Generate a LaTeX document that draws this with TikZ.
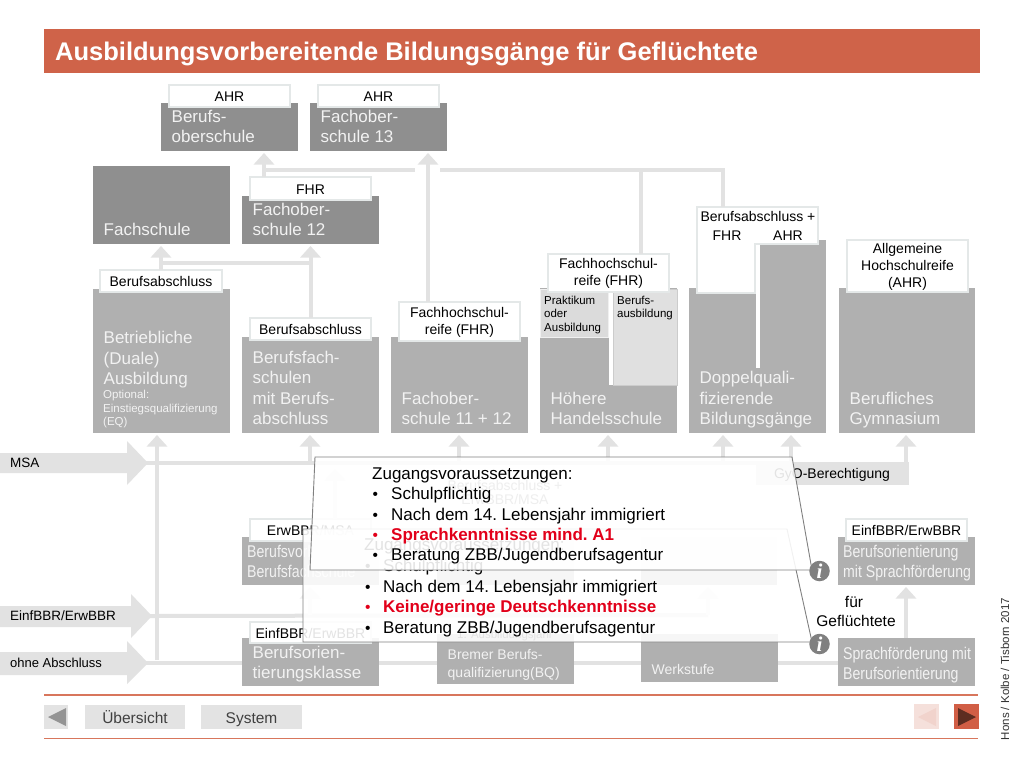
\documentclass[tikz,border=0pt]{standalone}
\usepackage{fontspec}
\setmainfont{Liberation Sans}
\newfontfamily\condf[FakeStretch=0.83]{Liberation Sans}
\newfontfamily\serifi{Liberation Serif}
\usetikzlibrary{arrows.meta,fit}
\definecolor{titlec}{HTML}{CF6349}
\definecolor{lg}{HTML}{E2E2E2}
\definecolor{dk}{HTML}{8F8F8F}
\definecolor{md}{HTML}{B0B0B0}
\definecolor{txtw}{HTML}{F2F2F2}
\definecolor{lb}{HTML}{E4E8E8}
\definecolor{redt}{HTML}{E2001A}
\definecolor{navl}{HTML}{D8765C}
\tikzset{
  boxfit/.style={inner sep=0pt,outer sep=0pt,draw=none},
  boxtext/.style={inner sep=0pt,anchor=south west,align=left,text=txtw,text depth=0pt,font=\fontsize{17}{20.5}\selectfont},
  condtext/.style={boxtext,font=\fontsize{17}{20.5}\selectfont\condf},
  smalltext/.style={inner sep=0pt,align=left,text=black,font=\fontsize{11.5}{13.5}\selectfont},
  lbltext/.style={inner sep=0pt,align=center,text=black,font=\fontsize{14}{17}\selectfont},
  wire/.style={draw=lg,line width=4pt},
  conn/.style={draw=lg,line width=4pt,-{Triangle[length=11.5pt,width=20pt]},shorten >=2pt},
  ghostconn/.style={conn,draw=lg!55},
  popup/.style={draw=black!50,line width=0.9pt,fill=white,fill opacity=0.89},
  poptext/.style={inner sep=0pt,anchor=base west,text=black,font=\fontsize{17}{20.5}\selectfont\frenchspacing},
  popbul/.style={poptext,font=\fontsize{15.5}{20.5}\selectfont},
  popred/.style={poptext,text=redt,font=\fontsize{17}{20.5}\selectfont\bfseries\frenchspacing},
  infoc/.style={circle,fill=black!50,inner sep=0pt,minimum size=20.5pt,text=white,font=\fontsize{21}{21}\selectfont\serifi\bfseries\itshape},
  navbtn/.style={boxfit,fill=black!11},
  navtext/.style={inner sep=0pt,anchor=base,text=black!75,font=\fontsize{15.5}{18}\selectfont},
}
\newcommand{\gbox}[8]{%
  \node[boxfit,fill=#6,fit={(#2,#3)(#4,#5)}] (#1) {};
  \node[boxtext] (#1-t) at ([xshift=10.5pt,yshift=#7pt]#1.south west) {#8};
}
\newcommand{\cbox}[7]{%
  \node[boxfit,fill=md,fit={(#2,#3)(#4,#5)}] (#1) {};
  \node[condtext] (#1-t) at ([xshift=5pt,yshift=#6pt]#1.south west) {#7};
}
\newcommand{\lbl}[6]{%
  \node[boxfit,fill=white,draw=lb,line width=1.5pt,fit={(#2,#3)(#4,#5)}] (#1) {};
  \node[lbltext] (#1-t) at ([yshift=-0.7pt]#1.center) {#6};
}
\begin{document}
\begin{tikzpicture}[x=1pt,y=-1pt]
\useasboundingbox (0,0) rectangle (1024,768);
\fill[white] (0,0) rectangle (1024,768);

% title
\node[boxfit,fill=titlec,fit={(44,29)(980,73)}] (title) {};
\node[inner sep=0pt,anchor=west,text=white,font=\fontsize{25.5}{28}\selectfont\bfseries] (title-t) at (55,54) {Ausbildungsvorbereitende Bildungsgänge für Geflüchtete};

% named junctions
\coordinate (b263l) at (161,263);
\coordinate (b170r) at (723,170);
\coordinate (b170a) at (264,170);
\coordinate (b170g1) at (415,170);
\coordinate (b170g2) at (440,170);
\coordinate (msaend) at (791,463);
\coordinate (einfend) at (708,615);

% input block arrows
\fill[lg] (0,453)--(127,453)--(127,441)--(148,463)--(127,485)--(127,473)--(0,473)--cycle;
\fill[lg] (0,606)--(131,606)--(131,594)--(152,616)--(131,638)--(131,627)--(0,627)--cycle;
\fill[lg] (0,652)--(127,652)--(127,641)--(148,663)--(127,684)--(127,675)--(0,675)--cycle;
\coordinate (msaT) at (146,463);
\coordinate (einfT) at (150,616);
\coordinate (ohneT) at (146,663);
\node[lbltext,anchor=west,font=\fontsize{13.5}{16}\selectfont] (msa) at (10,463) {MSA};
\node[lbltext,anchor=west,font=\fontsize{13.5}{16}\selectfont] (einf) at (10,616) {EinfBBR/ErwBBR};
\node[lbltext,anchor=west,font=\fontsize{13}{16}\selectfont] (ohne) at (10,663) {ohne Abschluss};

% bus lines
\draw[wire] (msaT) -- (msaend);
\draw[wire] (einfT) -- (einfend);
\draw[wire] (ohneT) -- (838,663);
\draw[wire] (157,660) -- (157,450);

% boxes top
\gbox{bos}{161}{103}{298}{151}{dk}{8}{Berufs-\\oberschule}
\gbox{fos13}{310}{103}{447}{151}{dk}{8}{Fachober-\\schule 13}
\gbox{fs}{93}{166}{230}{244}{dk}{8}{Fachschule}
\gbox{fos12}{242}{196}{379}{244}{dk}{8}{Fachober-\\schule 12}
\gbox{dual}{93}{289}{230}{433}{md}{48}{Betriebliche\\(Duale)\\Ausbildung}
\node[smalltext,text=txtw,anchor=north west] (dual-s) at (103,390) {Optional:\\Einstiegsqualifizierung\\(EQ)};
\gbox{bfs}{242}{337}{379}{433}{md}{8}{Berufsfach-\\schulen\\mit Berufs-\\abschluss}
\gbox{fos11}{391}{337}{528}{433}{md}{8}{Fachober-\\schule 11 + 12}
\gbox{hhs}{540}{288}{677}{433}{md}{8}{Höhere\\Handelsschule}
\gbox{dq}{689}{288}{826}{433}{md}{8}{Doppelquali-\\fizierende\\Bildungsgänge}
\node[boxfit,fill=md,fit={(760,240)(826,288)}] (dqr) {};
\gbox{gym}{839}{288}{975}{433}{md}{8}{Berufliches\\Gymnasium}

% inner parts of Hoehere Handelsschule
\node[boxfit,fill=black!14,draw=black!6,line width=0.8pt,fit={(540,289)(608,337)}] (prak) {};
\node[smalltext,anchor=north west] (prak-t) at (544,295.5) {Praktikum\\oder\\Ausbildung};
\fill[white] (608.5,289) rectangle (612.5,385);
\node[boxfit,fill=black!12,draw=black!20,line width=0.8pt,fit={(613,289)(677,385)}] (ber) {};
\node[smalltext,anchor=north west] (ber-t) at (617,295.5) {Berufs-\\ausbildung};

% lower boxes
\cbox{bvb}{242}{537}{379}{585}{7}{Berufsvorbereitende\\Berufsfachschule}
\node[boxfit,fill=md,fit={(437,537)(574,585)}] (mid1) {};
\node[boxfit,fill=md,fit={(641,537)(777,585)}] (mid2) {};
\cbox{bso}{838}{537}{975}{585}{7}{Berufsorientierung\\mit Sprachförderung}
\gbox{bok}{242}{638}{379}{686}{md}{7}{Berufsorien-\\tierungsklasse}
\node[boxfit,fill=md,fit={(437,634)(574,684)}] (bq) {};
\node[boxtext,font=\fontsize{14}{18.5}\selectfont] (bq-t) at ([xshift=10.5pt,yshift=6pt]bq.south west) {Bremer Berufs-\\qualifizierung(BQ)};
\node[boxfit,fill=md,fit={(641,634)(778,682)}] (werk) {};
\node[boxtext,font=\fontsize{14}{18}\selectfont] (werk-t) at ([xshift=10.5pt,yshift=7pt]werk.south west) {Werkstufe};
\cbox{spf}{838}{638}{975}{686}{6}{Sprachförderung mit\\Berufsorientierung}

% GyO
\node[boxfit,fill=lg,fit={(756,462)(909,485)}] (gyo) {};
\node[lbltext] (gyo-t) at (832,475) {GyO-Berechtigung};

% labels
\lbl{l1}{169}{85}{290}{107}{AHR}
\lbl{l2}{318}{85}{439}{107}{AHR}
\lbl{l3}{250}{177}{371}{200}{FHR}
\lbl{l4}{100}{270}{222}{292}{Berufsabschluss}
\lbl{l5}{250}{318}{371}{340}{Berufsabschluss}
\lbl{l6}{399}{302}{520}{341}{Fachhochschul-\\reife (FHR)}
\lbl{l7}{548}{254}{669}{292}{Fachhochschul-\\reife (FHR)}
\lbl{l8}{847}{240}{968}{292}{Allgemeine\\Hochschulreife\\(AHR)}
\lbl{l9}{250}{519}{371}{541}{ErwBBR/MSA}
\lbl{l10}{846}{519}{967}{541}{EinfBBR/ErwBBR}
\lbl{l11}{250}{622}{371}{643}{EinfBBR/ErwBBR}
\node[lbltext,font=\fontsize{11.5}{13}\selectfont] (l12) at (505,636) {1. Ausbildungsjahr};

% Doppelquali label
\filldraw[fill=white,draw=lb,line width=1.5pt] (697,207)--(818,207)--(818,244)--(755,244)--(755,293)--(697,293)--cycle;
\fill[white] (755.5,245) rectangle (760,368);
\coordinate (dql) at (723,207);
\node[lbltext] (dq1) at (758,216) {Berufsabschluss +};
\node[lbltext] (dq2) at (727,236) {FHR};
\node[lbltext] (dq3) at (788,236) {AHR};

% faint hidden label text
\node[lbltext,text=black!60] (hid) at (505,492) {Berufsabschluss +\\[-3pt]ErwBBR/MSA};

% connectors, upper part
\draw[conn] (l3.north -| b170a) -- (bos.south -| b170a);
\draw[wire] (b170a) -- (b170g1);
\draw[wire] (b170g2) -- (b170r) -- (dql);
\draw[wire] (641,170) -- (l7.north -| 641,0);
\draw[conn] (l6.north -| 428,0) -- (fos13.south -| 428,0);
\draw[conn] (l4.north -| b263l) -- (fs.south -| b263l);
\draw[conn] (l5.north) -- (fos12.south);
\draw[wire] (b263l) -- (310,263);

% connectors, from MSA bus
\draw[conn] (157,463) -- (dual.south -| 157,0);
\draw[conn] (310,463) -- (bfs.south -| 310,0);
\draw[conn] (459,463) -- (fos11.south -| 459,0);
\draw[conn] (608,463) -- (hhs.south -| 608,0);
\draw[conn] (723,463) -- (dq.south -| 723,0);
\draw[conn] (msaend) -- (dq.south -| msaend);
\draw[conn] (gyo.north -| 906,0) ++(0,2) -- (gym.south -| 906,0);

% connectors, lower part
\draw[ghostconn] (310,615) -- (bvb.south -| 310,0);
\draw[ghostconn] (einfend) -- (mid2.south -| einfend);
\draw[ghostconn] (l9.north -| 335,0) -- (335,467);
\draw[conn] (spf.north -| 906,0) -- (bso.south -| 906,0);

% popups
\filldraw[popup] (303,529)--(787,529)--(812,642)--(303,642)--cycle;
\node[poptext] (p21) at (364,550) {Zugangsvoraussetzungen:};
\node[popbul] (p22b) at (365,571) {•};
\node[poptext] (p22) at (383,571) {Schulpflichtig};
\node[popbul] (p23b) at (365,592) {•};
\node[poptext] (p23) at (383,592) {Nach dem 14. Lebensjahr immigriert};
\node[popbul,text=redt] (p24b) at (365,612) {•};
\node[popred] (p24) at (383,612) {Keine/geringe Deutschkenntnisse};
\node[popbul] (p25b) at (365,633) {•};
\node[poptext] (p25) at (383,633) {Beratung ZBB/Jugendberufsagentur};

\filldraw[popup] (315,457)--(792,457)--(812,570)--(310,570)--cycle;
\node[poptext] (p11) at (372,479) {Zugangsvoraussetzungen:};
\node[popbul] (p12b) at (372.5,499) {•};
\node[poptext] (p12) at (391,499) {Schulpflichtig};
\node[popbul] (p13b) at (372.5,520) {•};
\node[poptext] (p13) at (391,520) {Nach dem 14. Lebensjahr immigriert};
\node[popbul,text=redt] (p14b) at (372.5,540) {•};
\node[popred] (p14) at (391,540) {Sprachkenntnisse mind. A1};
\node[popbul] (p15b) at (372.5,560) {•};
\node[poptext] (p15) at (391,560) {Beratung ZBB/Jugendberufsagentur};

\node[infoc] (i1) at (819.5,571) {i};
\node[infoc] (i2) at (819.5,644) {i};

\node[lbltext,font=\fontsize{15.5}{19}\selectfont] (fuer) at (854,602) {für};
\node[lbltext,font=\fontsize{15.5}{19}\selectfont] (gefl) at (856,621) {Geflüchtete};

% bottom navigation
\draw[navl,line width=1.4pt] (44,695) -- (978,695);
\draw[navl,line width=1.4pt] (44,738.5) -- (978,738.5);
\node[navbtn,fit={(44,705)(68,729)}] (back) {};
\fill[black!42] (48,717)--(66,708)--(66,726)--cycle;
\node[navbtn,fit={(85,705)(185,729)}] (ub) {};
\node[navtext] (ub-t) at (135,723) {Übersicht};
\node[navbtn,fit={(201,705)(302,729)}] (sys) {};
\node[navtext] (sys-t) at (251.5,723) {System};
\node[boxfit,fill=titlec!20,fit={(914,704)(939,729)}] (prev) {};
\fill[titlec!28] (918,717)--(936,708)--(936,726)--cycle;
\node[boxfit,fill=titlec!95!red,fit={(954,704)(979,729)}] (next) {};
\fill[black!55!titlec] (976,717)--(958,708)--(958,726)--cycle;

\node[inner sep=0pt,rotate=90,text=black!80,font=\fontsize{11.5}{14}\selectfont] (credit) at (1005,669) {Hons / Kolbe / Tisborn 2017};
\end{tikzpicture}
\end{document}
